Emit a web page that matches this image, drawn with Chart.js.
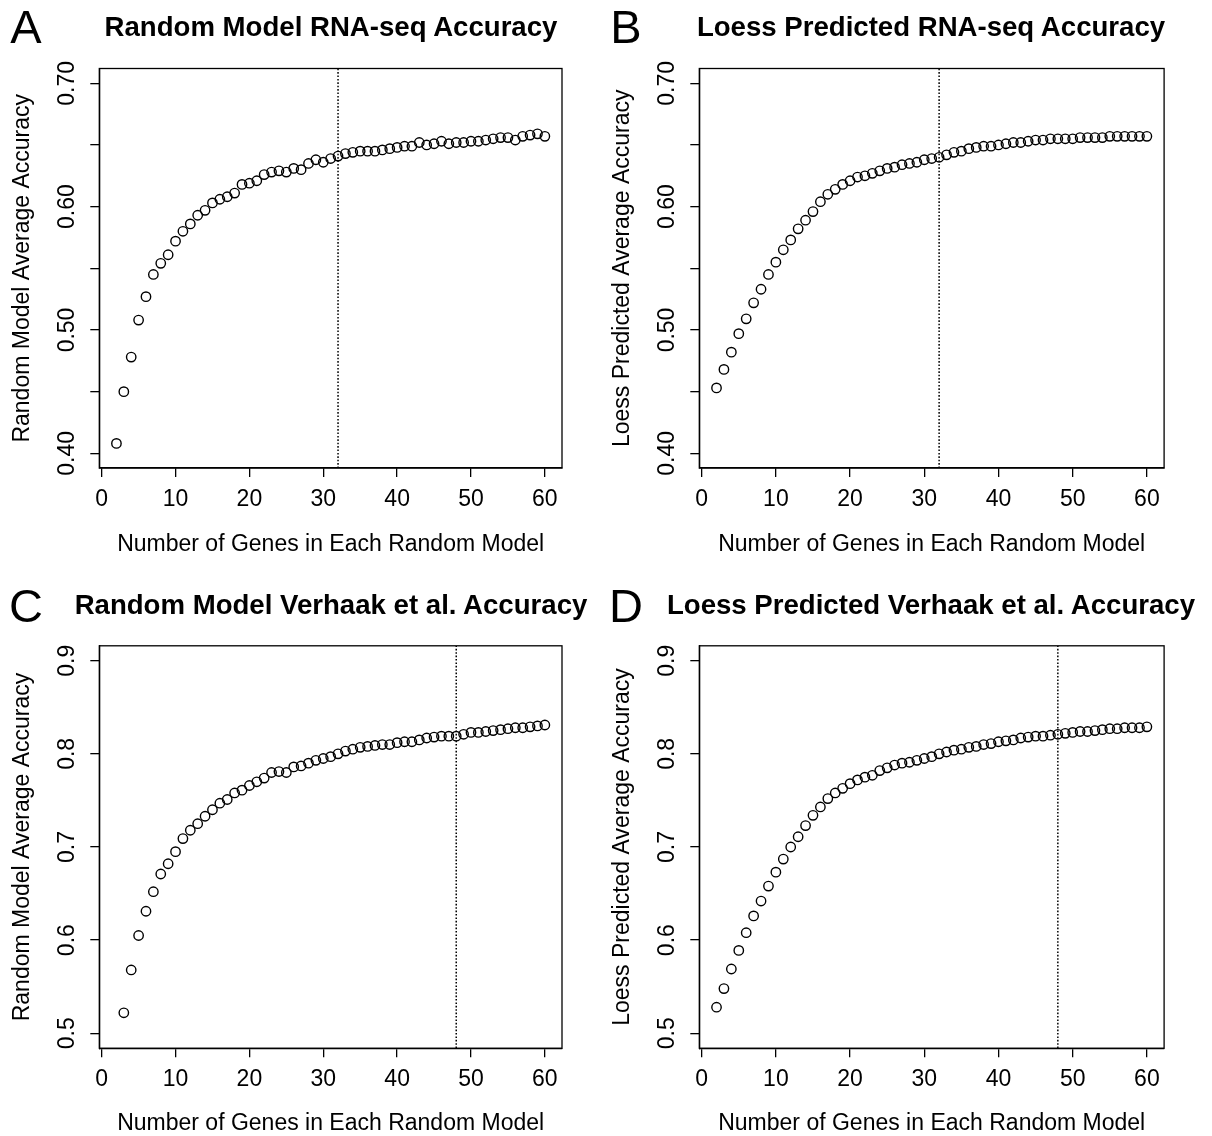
<!DOCTYPE html>
<html>
<head>
<meta charset="utf-8">
<title>Random model accuracy</title>
<script src="https://cdn.jsdelivr.net/npm/chart.js@4.4.1/dist/chart.umd.min.js"></script>
<style>
  body { margin: 0; background: #fff; }
  #wrap { position: relative; width: 1212px; height: 1136px; overflow: hidden; font-family: "Liberation Sans", Arial, sans-serif; color: #000; }
  canvas { position: absolute; }
  .letter, .title { position: absolute; transform: translate(-50%, -50%); line-height: 1; white-space: nowrap; }
  .letter { font-size: 47px; }
  .title { font-size: 27.6px; font-weight: bold; }
</style>
</head>
<body>
<div id="wrap">
  <canvas id="chartA" width="606" height="568" style="left:0;top:0"></canvas>
  <canvas id="chartB" width="606" height="568" style="left:606px;top:0"></canvas>
  <canvas id="chartC" width="606" height="568" style="left:0;top:568px"></canvas>
  <canvas id="chartD" width="606" height="568" style="left:606px;top:568px"></canvas>

  <div class="letter" style="left:26px;top:26px">A</div>
  <div class="title" style="left:331px;top:27px">Random Model RNA-seq Accuracy</div>
  <div class="letter" style="left:626px;top:26px">B</div>
  <div class="title" style="left:931px;top:27px">Loess Predicted RNA-seq Accuracy</div>
  <div class="letter" style="left:26px;top:605px">C</div>
  <div class="title" style="left:331px;top:605px">Random Model Verhaak et al. Accuracy</div>
  <div class="letter" style="left:626px;top:605px">D</div>
  <div class="title" style="left:931px;top:605px">Loess Predicted Verhaak et al. Accuracy</div>
</div>

<script>
// number of genes per random model (x)
const genesFrom2 = [2, 3, 4, 5, 6, 7, 8, 9, 10, 11, 12, 13, 14, 15, 16, 17, 18, 19, 20, 21,
  22, 23, 24, 25, 26, 27, 28, 29, 30, 31, 32, 33, 34, 35, 36, 37, 38, 39, 40, 41,
  42, 43, 44, 45, 46, 47, 48, 49, 50, 51, 52, 53, 54, 55, 56, 57, 58, 59, 60];
const genesFrom3 = [3, 4, 5, 6, 7, 8, 9, 10, 11, 12, 13, 14, 15, 16, 17, 18, 19, 20, 21,
  22, 23, 24, 25, 26, 27, 28, 29, 30, 31, 32, 33, 34, 35, 36, 37, 38, 39, 40, 41,
  42, 43, 44, 45, 46, 47, 48, 49, 50, 51, 52, 53, 54, 55, 56, 57, 58, 59, 60];

// A: random model, RNA-seq
const randomRna = [0.408, 0.450, 0.478, 0.508, 0.527, 0.545, 0.554, 0.561, 0.572, 0.580,
  0.586, 0.593, 0.597, 0.603, 0.606, 0.608, 0.611, 0.618, 0.619, 0.621,
  0.626, 0.628, 0.629, 0.628, 0.631, 0.630, 0.635, 0.638, 0.636, 0.639,
  0.641, 0.643, 0.644, 0.645, 0.645, 0.645, 0.646, 0.647, 0.648, 0.649,
  0.649, 0.652, 0.650, 0.651, 0.653, 0.651, 0.652, 0.652, 0.653, 0.653,
  0.654, 0.655, 0.656, 0.656, 0.654, 0.657, 0.658, 0.659, 0.657];

// B: loess predicted, RNA-seq
const loessRna = [0.453, 0.468, 0.482, 0.497, 0.509, 0.522, 0.533, 0.545, 0.555, 0.565,
  0.573, 0.582, 0.589, 0.596, 0.604, 0.610, 0.614, 0.618, 0.621, 0.624,
  0.625, 0.627, 0.629, 0.631, 0.632, 0.634, 0.635, 0.636, 0.638, 0.639,
  0.640, 0.642, 0.644, 0.645, 0.647, 0.648, 0.649, 0.649, 0.650, 0.651,
  0.652, 0.652, 0.653, 0.654, 0.654, 0.655, 0.655, 0.655, 0.655, 0.656,
  0.656, 0.656, 0.656, 0.657, 0.657, 0.657, 0.657, 0.657, 0.657];

// C: random model, Verhaak et al. (starts at 3 genes)
const randomVer = [0.522, 0.568, 0.605, 0.631, 0.652, 0.671, 0.682, 0.695, 0.709,
  0.718, 0.725, 0.733, 0.740, 0.747, 0.751, 0.758, 0.761, 0.766, 0.770,
  0.774, 0.780, 0.781, 0.780, 0.786, 0.787, 0.790, 0.793, 0.795, 0.797,
  0.800, 0.803, 0.805, 0.807, 0.808, 0.809, 0.810, 0.810, 0.812, 0.813,
  0.813, 0.815, 0.817, 0.818, 0.819, 0.819, 0.819, 0.821, 0.823, 0.823,
  0.824, 0.825, 0.826, 0.827, 0.828, 0.828, 0.829, 0.830, 0.831];

// D: loess predicted, Verhaak et al.
const loessVer = [0.528, 0.548, 0.569, 0.589, 0.608, 0.626, 0.642, 0.658, 0.673, 0.687,
  0.700, 0.711, 0.723, 0.734, 0.743, 0.752, 0.758, 0.763, 0.768, 0.772,
  0.775, 0.777, 0.782, 0.785, 0.788, 0.790, 0.791, 0.793, 0.795, 0.797,
  0.800, 0.802, 0.804, 0.805, 0.807, 0.808, 0.810, 0.811, 0.813, 0.814,
  0.815, 0.817, 0.818, 0.819, 0.819, 0.820, 0.821, 0.822, 0.823, 0.824,
  0.824, 0.825, 0.826, 0.827, 0.827, 0.828, 0.828, 0.828, 0.829];

// dotted cut-off lines
const cutoffRna = 32;
const cutoffVer = 48;

// ticks
const xTicks = [0, 10, 20, 30, 40, 50, 60];
const yTicksRna = [0.40, 0.45, 0.50, 0.55, 0.60, 0.65, 0.70];
const yLabelsRna = ["0.40", "", "0.50", "", "0.60", "", "0.70"];
const yTicksVer = [0.5, 0.6, 0.7, 0.8, 0.9];
const yLabelsVer = ["0.5", "0.6", "0.7", "0.8", "0.9"];

const xTitle = "Number of Genes in Each Random Model";
const FONT = "'Liberation Sans', Arial, sans-serif";

// closes the plot box (R style)
const boxPlugin = {
  id: "box",
  afterDatasetsDraw(chart) {
    const a = chart.chartArea;
    const ctx = chart.ctx;
    ctx.save();
    ctx.strokeStyle = "#000";
    ctx.lineWidth = 1.3;
    ctx.strokeRect(a.left, a.top, a.right - a.left, a.bottom - a.top);
    ctx.restore();
  }
};

function makePanel(id, p) {
  const points = p.genes.map((g, i) => ({ x: g, y: p.values[i] }));
  const ctx = document.getElementById(id).getContext("2d");
  return new Chart(ctx, {
    type: "scatter",
    data: {
      datasets: [
        {
          type: "line",
          data: [{ x: p.cutoff, y: p.yMin }, { x: p.cutoff, y: p.yMax }],
          borderColor: "#000",
          borderWidth: 1.5,
          borderDash: [1.6, 1.8],
          pointRadius: 0,
          fill: false
        },
        {
          data: points,
          pointStyle: "circle",
          pointRadius: 4.7,
          pointBorderWidth: 1.4,
          pointBorderColor: "#000",
          pointBackgroundColor: "rgba(0,0,0,0)"
        }
      ]
    },
    options: {
      responsive: false,
      animation: false,
      devicePixelRatio: 1,
      events: [],
      layout: { padding: { left: 0, right: p.padRight, top: p.padTop, bottom: 0 } },
      plugins: { legend: { display: false }, tooltip: { enabled: false } },
      scales: {
        x: {
          type: "linear",
          min: -0.32,
          max: 62.32,
          afterBuildTicks: s => { s.ticks = xTicks.map(v => ({ value: v })); },
          afterFit: s => { s.height = p.xHeight; },
          ticks: {
            autoSkip: false,
            maxRotation: 0,
            padding: 8.8,
            color: "#000",
            font: { family: FONT, size: 23 },
            callback: v => String(v)
          },
          grid: { drawOnChartArea: false, drawTicks: true, tickLength: 9, color: "#000", lineWidth: 1.3 },
          border: { display: true, color: "#000", width: 1.3 },
          title: {
            display: true,
            text: xTitle,
            color: "#000",
            font: { family: FONT, size: 23 },
            padding: { top: 0, bottom: p.xTitlePad }
          }
        },
        y: {
          type: "linear",
          min: p.yMin,
          max: p.yMax,
          afterBuildTicks: s => { s.ticks = p.yTicks.map(v => ({ value: v })); },
          afterFit: s => { s.width = p.yWidth; },
          ticks: {
            autoSkip: false,
            minRotation: 90,
            maxRotation: 90,
            crossAlign: "center",
            padding: p.yTickPad,
            color: "#000",
            font: { family: FONT, size: 23 },
            callback: (v, i) => p.yLabels[i]
          },
          grid: { drawOnChartArea: false, drawTicks: true, tickLength: 9, color: "#000", lineWidth: 1.3 },
          border: { display: true, color: "#000", width: 1.3 },
          title: {
            display: true,
            text: p.yTitle,
            color: "#000",
            font: { family: FONT, size: 23 },
            padding: { top: p.yTitlePad, bottom: 0 }
          }
        }
      }
    },
    plugins: [boxPlugin]
  });
}

makePanel("chartA", {
  genes: genesFrom2, values: randomRna, cutoff: cutoffRna,
  yMin: 0.388, yMax: 0.712, yTicks: yTicksRna, yLabels: yLabelsRna,
  yTitle: "Random Model Average Accuracy",
  yWidth: 99.3, padRight: 44, padTop: 68.5, xHeight: 99.9, yTitlePad: 8.5, xTitlePad: 9.2, yTickPad: 0
});
makePanel("chartB", {
  genes: genesFrom2, values: loessRna, cutoff: cutoffRna,
  yMin: 0.388, yMax: 0.712, yTicks: yTicksRna, yLabels: yLabelsRna,
  yTitle: "Loess Predicted Average Accuracy",
  yWidth: 93.3, padRight: 47.9, padTop: 68.5, xHeight: 99.9, yTitlePad: 2.5, xTitlePad: 9.2, yTickPad: 0
});
makePanel("chartC", {
  genes: genesFrom3, values: randomVer, cutoff: cutoffVer,
  yMin: 0.484, yMax: 0.916, yTicks: yTicksVer, yLabels: yLabelsVer,
  yTitle: "Random Model Average Accuracy",
  yWidth: 99.3, padRight: 44, padTop: 77.8, xHeight: 87.8, yTitlePad: 8.5, xTitlePad: -1.8, yTickPad: 6.4
});
makePanel("chartD", {
  genes: genesFrom2, values: loessVer, cutoff: cutoffVer,
  yMin: 0.484, yMax: 0.916, yTicks: yTicksVer, yLabels: yLabelsVer,
  yTitle: "Loess Predicted Average Accuracy",
  yWidth: 93.3, padRight: 47.9, padTop: 77.8, xHeight: 87.8, yTitlePad: 2.5, xTitlePad: -1.8, yTickPad: 6.4
});
</script>
</body>
</html>
